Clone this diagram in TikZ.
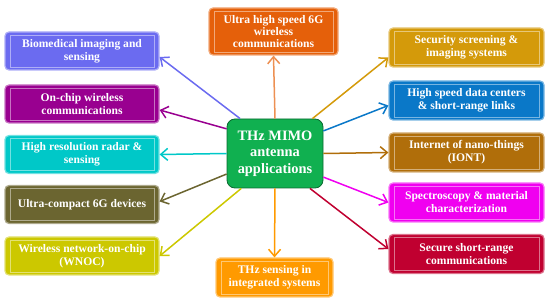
\documentclass[tikz,border=0pt]{standalone}
\usepackage{fontspec}
\setmainfont{Liberation Serif}
\usetikzlibrary{arrows.meta,positioning}
\definecolor{cbio}{HTML}{6B6BF0}
\definecolor{cchip}{HTML}{990090}
\definecolor{cradar}{HTML}{00C8C8}
\definecolor{ccompact}{HTML}{6B6530}
\definecolor{cwnoc}{HTML}{CCC800}
\definecolor{ctop}{HTML}{E5600A}
\definecolor{csec}{HTML}{D49A0A}
\definecolor{cdata}{HTML}{0A78C8}
\definecolor{ciont}{HTML}{B06E0A}
\definecolor{cspec}{HTML}{F000F0}
\definecolor{csecure}{HTML}{C00030}
\definecolor{csense}{HTML}{FF9A00}
\definecolor{chub}{HTML}{10B050}
\tikzset{
    appbox/.style={draw=#1!55!white, fill=#1, line width=1.2pt, rounded corners=4pt,
        text=white, align=center, font=\bfseries\fontsize{11.6}{13}\selectfont,
        inner sep=0pt, minimum width=154pt, minimum height=38pt,
        path picture={\draw[#1!55!white, line width=0.6pt, sharp corners]
            ([shift={(5pt,-3pt)}]path picture bounding box.north west) rectangle
            ([shift={(-5pt,3pt)}]path picture bounding box.south east);}},
    hubbox/.style={draw=chub!60!black, fill=chub, line width=0.8pt, rounded corners=8pt,
        text=white, align=center, font=\bfseries\fontsize{14.4}{16.5}\selectfont,
        minimum width=96pt, minimum height=69pt, inner sep=0pt},
    apparrow/.style={draw=#1, -{Straight Barb[length=7pt,width=12pt]}, line width=1.5pt}
}
\begin{document}
\begin{tikzpicture}[x=1pt,y=-1pt]
\useasboundingbox (0,0) rectangle (550,302);
% hub
\node[hubbox] (hub) at (275,153.5) {THz MIMO\\antenna\\applications};
% left column
\node[appbox=cbio] (bio) at (82,51) {Biomedical imaging and\\sensing};
\node[appbox=cchip] (chip) at (82,104) {On-chip wireless\\communications};
\node[appbox=cradar] (radar) at (82,154.5) {High resolution radar \&\\sensing};
\node[appbox=ccompact] (compact) at (82,204.5) {Ultra-compact 6G devices};
\node[appbox=cwnoc] (wnoc) at (82,256) {Wireless network-on-chip\\(WNOC)};
% top and bottom
\node[appbox=ctop, minimum width=129pt, minimum height=47pt,
    font=\bfseries\fontsize{11.6}{12}\selectfont] (speed) at (273.5,31.5)
    {Ultra high speed 6G\\wireless\\communications};
\node[appbox=csense, minimum width=117pt, minimum height=39pt] (sense) at (274.5,277.5)
    {THz sensing in\\integrated systems};
% right column
\node[appbox=csec, minimum width=155pt, minimum height=39pt] (sec) at (466.5,47.5) {Security screening \&\\imaging systems};
\node[appbox=cdata, minimum width=155pt, minimum height=39pt] (data) at (466.5,100.5) {High speed data centers\\\& short-range links};
\node[appbox=ciont, minimum width=155pt, minimum height=39pt] (iont) at (466.5,152.5) {Internet of nano-things\\(IONT)};
\node[appbox=cspec, minimum width=155pt, minimum height=39pt] (spec) at (466.5,202.5) {Spectroscopy \& material\\characterization};
\node[appbox=csecure, minimum width=155pt, minimum height=39pt] (secure) at (466.5,254) {Secure short-range\\communications};
% arrows
\draw[apparrow=cbio] (hub.135) -- ([yshift=-6pt]bio.east);
\draw[apparrow=cchip] (hub.153) -- ([yshift=-6pt]chip.east);
\draw[apparrow=cradar] (hub.west) -- (radar.east);
\draw[apparrow=ccompact] (hub.203) -- ([yshift=3pt]compact.east);
\draw[apparrow=cwnoc] (hub.226) -- (wnoc.east);
\draw[apparrow=ctop!70!white] (hub.north) -- (speed.south);
\draw[apparrow=csense] (hub.south) -- (sense.north);
\draw[apparrow=csec] (hub.43) -- ([yshift=-10pt]sec.west);
\draw[apparrow=cdata] (hub.25) -- ([yshift=-5pt]data.west);
\draw[apparrow=ciont] (hub.east) -- (iont.west);
\draw[apparrow=cspec] (hub.-26) -- (spec.west);
\draw[apparrow=csecure] (hub.-45) -- ([yshift=5pt]secure.west);
\end{tikzpicture}
\end{document}
